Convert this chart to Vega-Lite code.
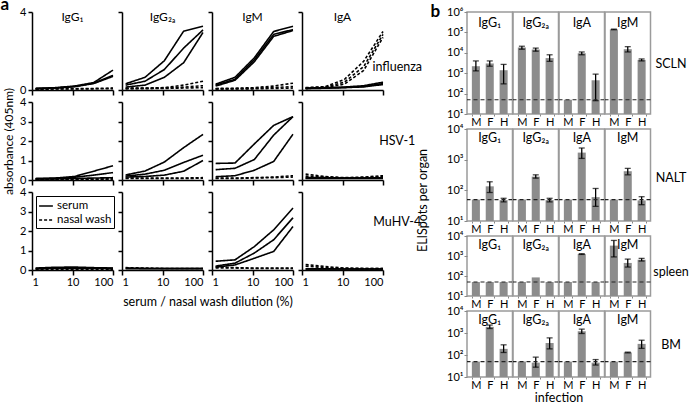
{
"$schema":"https://vega.github.io/schema/vega-lite/v6.json",
"padding":{"left":0,"top":-5,"right":0,"bottom":0},
"config":{"font":"Lato","view":{"stroke":null},
"axis":{"domainColor":"black","tickColor":"black","domainWidth":1.5,"tickWidth":1.5,"grid":false,"labelFontSize":11,"labelColor":"black","titleFontWeight":"normal","titleFontSize":12,"titleColor":"black"}},
"datasets":{
"lines":[
{"v":"influenza","i":"IgG1","s":"serum","m":1,"d":[1.23,3.7,11.1,33.3,100],"a":[0.08,0.12,0.2,0.38,1.02]},
{"v":"influenza","i":"IgG1","s":"serum","m":2,"d":[1.23,3.7,11.1,33.3,100],"a":[0.08,0.1,0.18,0.35,0.75]},
{"v":"influenza","i":"IgG1","s":"serum","m":3,"d":[1.23,3.7,11.1,33.3,100],"a":[0.06,0.1,0.17,0.33,0.7]},
{"v":"influenza","i":"IgG1","s":"nasal wash","m":4,"d":[1.23,3.7,11.1,33.3,100],"a":[0.06,0.06,0.07,0.08,0.1]},
{"v":"influenza","i":"IgG1","s":"nasal wash","m":5,"d":[1.23,3.7,11.1,33.3,100],"a":[0.04,0.05,0.05,0.06,0.07]},
{"v":"influenza","i":"IgG2a","s":"serum","m":1,"d":[1.23,3.7,11.1,33.3,100],"a":[0.32,0.65,1.5,3.02,3.27]},
{"v":"influenza","i":"IgG2a","s":"serum","m":2,"d":[1.23,3.7,11.1,33.3,100],"a":[0.25,0.45,1.05,2.15,3.08]},
{"v":"influenza","i":"IgG2a","s":"serum","m":3,"d":[1.23,3.7,11.1,33.3,100],"a":[0.15,0.25,0.65,1.4,2.95]},
{"v":"influenza","i":"IgG2a","s":"nasal wash","m":4,"d":[1.23,3.7,11.1,33.3,100],"a":[0.1,0.1,0.12,0.25,0.45]},
{"v":"influenza","i":"IgG2a","s":"nasal wash","m":5,"d":[1.23,3.7,11.1,33.3,100],"a":[0.08,0.09,0.1,0.15,0.22]},
{"v":"influenza","i":"IgG2a","s":"nasal wash","m":6,"d":[1.23,3.7,11.1,33.3,100],"a":[0.06,0.07,0.08,0.1,0.12]},
{"v":"influenza","i":"IgM","s":"serum","m":1,"d":[1.23,3.7,11.1,33.3,100],"a":[0.3,0.65,1.65,3.0,3.27]},
{"v":"influenza","i":"IgM","s":"serum","m":2,"d":[1.23,3.7,11.1,33.3,100],"a":[0.25,0.55,1.55,2.85,3.1]},
{"v":"influenza","i":"IgM","s":"serum","m":3,"d":[1.23,3.7,11.1,33.3,100],"a":[0.2,0.5,1.45,2.75,3.05]},
{"v":"influenza","i":"IgM","s":"nasal wash","m":4,"d":[1.23,3.7,11.1,33.3,100],"a":[0.08,0.09,0.12,0.2,0.35]},
{"v":"influenza","i":"IgM","s":"nasal wash","m":5,"d":[1.23,3.7,11.1,33.3,100],"a":[0.06,0.07,0.09,0.12,0.18]},
{"v":"influenza","i":"IgM","s":"nasal wash","m":6,"d":[1.23,3.7,11.1,33.3,100],"a":[0.05,0.05,0.06,0.08,0.1]},
{"v":"influenza","i":"IgA","s":"serum","m":1,"d":[1.23,3.7,11.1,33.3,100],"a":[0.1,0.12,0.15,0.22,0.4]},
{"v":"influenza","i":"IgA","s":"serum","m":2,"d":[1.23,3.7,11.1,33.3,100],"a":[0.08,0.1,0.13,0.18,0.33]},
{"v":"influenza","i":"IgA","s":"serum","m":3,"d":[1.23,3.7,11.1,33.3,100],"a":[0.07,0.09,0.12,0.16,0.28]},
{"v":"influenza","i":"IgA","s":"nasal wash","m":4,"d":[1.23,3.7,11.1,33.3,100],"a":[0.12,0.17,0.54,1.47,3.0]},
{"v":"influenza","i":"IgA","s":"nasal wash","m":5,"d":[1.23,3.7,11.1,33.3,100],"a":[0.1,0.15,0.4,1.2,2.85]},
{"v":"influenza","i":"IgA","s":"nasal wash","m":6,"d":[1.23,3.7,11.1,33.3,100],"a":[0.08,0.12,0.3,1.0,2.7]},
{"v":"HSV-1","i":"IgG1","s":"serum","m":1,"d":[1.23,3.7,11.1,33.3,100],"a":[0.08,0.1,0.18,0.45,0.73]},
{"v":"HSV-1","i":"IgG1","s":"serum","m":2,"d":[1.23,3.7,11.1,33.3,100],"a":[0.06,0.08,0.14,0.25,0.38]},
{"v":"HSV-1","i":"IgG1","s":"serum","m":3,"d":[1.23,3.7,11.1,33.3,100],"a":[0.05,0.06,0.08,0.1,0.12]},
{"v":"HSV-1","i":"IgG1","s":"nasal wash","m":4,"d":[1.23,3.7,11.1,33.3,100],"a":[0.04,0.04,0.05,0.05,0.06]},
{"v":"HSV-1","i":"IgG1","s":"nasal wash","m":5,"d":[1.23,3.7,11.1,33.3,100],"a":[0.03,0.03,0.04,0.04,0.05]},
{"v":"HSV-1","i":"IgG2a","s":"serum","m":1,"d":[1.23,3.7,11.1,33.3,100],"a":[0.26,0.46,0.92,1.66,2.34]},
{"v":"HSV-1","i":"IgG2a","s":"serum","m":2,"d":[1.23,3.7,11.1,33.3,100],"a":[0.2,0.3,0.5,0.9,1.27]},
{"v":"HSV-1","i":"IgG2a","s":"serum","m":3,"d":[1.23,3.7,11.1,33.3,100],"a":[0.15,0.18,0.25,0.45,1.0]},
{"v":"HSV-1","i":"IgG2a","s":"nasal wash","m":4,"d":[1.23,3.7,11.1,33.3,100],"a":[0.1,0.1,0.1,0.1,0.12]},
{"v":"HSV-1","i":"IgG2a","s":"nasal wash","m":5,"d":[1.23,3.7,11.1,33.3,100],"a":[0.08,0.08,0.08,0.08,0.09]},
{"v":"HSV-1","i":"IgM","s":"serum","m":1,"d":[1.23,3.7,11.1,33.3,100],"a":[0.85,0.87,1.85,2.8,3.25]},
{"v":"HSV-1","i":"IgM","s":"serum","m":2,"d":[1.23,3.7,11.1,33.3,100],"a":[0.53,0.6,1.05,2.3,3.25]},
{"v":"HSV-1","i":"IgM","s":"serum","m":3,"d":[1.23,3.7,11.1,33.3,100],"a":[0.17,0.22,0.5,0.95,2.35]},
{"v":"HSV-1","i":"IgM","s":"nasal wash","m":4,"d":[1.23,3.7,11.1,33.3,100],"a":[0.1,0.1,0.12,0.15,0.22]},
{"v":"HSV-1","i":"IgM","s":"nasal wash","m":5,"d":[1.23,3.7,11.1,33.3,100],"a":[0.08,0.08,0.1,0.12,0.15]},
{"v":"HSV-1","i":"IgA","s":"serum","m":1,"d":[1.23,3.7,11.1,33.3,100],"a":[0.12,0.12,0.1,0.1,0.12]},
{"v":"HSV-1","i":"IgA","s":"serum","m":2,"d":[1.23,3.7,11.1,33.3,100],"a":[0.1,0.1,0.1,0.1,0.1]},
{"v":"HSV-1","i":"IgA","s":"serum","m":3,"d":[1.23,3.7,11.1,33.3,100],"a":[0.08,0.08,0.08,0.08,0.08]},
{"v":"HSV-1","i":"IgA","s":"nasal wash","m":4,"d":[1.23,3.7,11.1,33.3,100],"a":[0.3,0.18,0.12,0.15,0.22]},
{"v":"HSV-1","i":"IgA","s":"nasal wash","m":5,"d":[1.23,3.7,11.1,33.3,100],"a":[0.2,0.15,0.1,0.12,0.18]},
{"v":"MuHV-4","i":"IgG1","s":"serum","m":1,"d":[1.23,3.7,11.1,33.3,100],"a":[0.1,0.14,0.15,0.12,0.1]},
{"v":"MuHV-4","i":"IgG1","s":"serum","m":2,"d":[1.23,3.7,11.1,33.3,100],"a":[0.08,0.1,0.1,0.1,0.08]},
{"v":"MuHV-4","i":"IgG1","s":"serum","m":3,"d":[1.23,3.7,11.1,33.3,100],"a":[0.06,0.08,0.08,0.08,0.07]},
{"v":"MuHV-4","i":"IgG1","s":"nasal wash","m":4,"d":[1.23,3.7,11.1,33.3,100],"a":[0.04,0.04,0.04,0.04,0.04]},
{"v":"MuHV-4","i":"IgG2a","s":"serum","m":1,"d":[1.23,3.7,11.1,33.3,100],"a":[0.1,0.08,0.08,0.08,0.08]},
{"v":"MuHV-4","i":"IgG2a","s":"serum","m":2,"d":[1.23,3.7,11.1,33.3,100],"a":[0.07,0.07,0.07,0.07,0.07]},
{"v":"MuHV-4","i":"IgG2a","s":"nasal wash","m":4,"d":[1.23,3.7,11.1,33.3,100],"a":[0.12,0.1,0.08,0.08,0.08]},
{"v":"MuHV-4","i":"IgM","s":"serum","m":1,"d":[1.23,3.7,11.1,33.3,100],"a":[0.45,0.52,1.2,2.06,3.18]},
{"v":"MuHV-4","i":"IgM","s":"serum","m":2,"d":[1.23,3.7,11.1,33.3,100],"a":[0.2,0.35,0.87,1.55,2.68]},
{"v":"MuHV-4","i":"IgM","s":"serum","m":3,"d":[1.23,3.7,11.1,33.3,100],"a":[0.15,0.26,0.6,0.95,2.23]},
{"v":"MuHV-4","i":"IgM","s":"nasal wash","m":4,"d":[1.23,3.7,11.1,33.3,100],"a":[0.15,0.12,0.1,0.1,0.1]},
{"v":"MuHV-4","i":"IgM","s":"nasal wash","m":5,"d":[1.23,3.7,11.1,33.3,100],"a":[0.1,0.1,0.08,0.08,0.08]},
{"v":"MuHV-4","i":"IgA","s":"serum","m":1,"d":[1.23,3.7,11.1,33.3,100],"a":[0.06,0.06,0.05,0.05,0.05]},
{"v":"MuHV-4","i":"IgA","s":"serum","m":2,"d":[1.23,3.7,11.1,33.3,100],"a":[0.05,0.05,0.05,0.05,0.05]},
{"v":"MuHV-4","i":"IgA","s":"nasal wash","m":4,"d":[1.23,3.7,11.1,33.3,100],"a":[0.28,0.18,0.1,0.08,0.08]},
{"v":"MuHV-4","i":"IgA","s":"nasal wash","m":5,"d":[1.23,3.7,11.1,33.3,100],"a":[0.2,0.12,0.08,0.07,0.07]}
],
"bars":[
{"o":"SCLN","i":"IgG1","g":"M","v":2200,"lo":1300,"hi":4000},
{"o":"SCLN","i":"IgG1","g":"F","v":3000,"lo":2200,"hi":4000},
{"o":"SCLN","i":"IgG1","g":"H","v":1400,"lo":300,"hi":2700},
{"o":"SCLN","i":"IgG2a","g":"M","v":18000,"lo":15000,"hi":21000},
{"o":"SCLN","i":"IgG2a","g":"F","v":14500,"lo":12000,"hi":17000},
{"o":"SCLN","i":"IgG2a","g":"H","v":5500,"lo":3800,"hi":8000},
{"o":"SCLN","i":"IgA","g":"M","v":50,"lo":null,"hi":null},
{"o":"SCLN","i":"IgA","g":"F","v":9500,"lo":8000,"hi":11000},
{"o":"SCLN","i":"IgA","g":"H","v":450,"lo":45,"hi":900},
{"o":"SCLN","i":"IgM","g":"M","v":140000,"lo":135000,"hi":145000},
{"o":"SCLN","i":"IgM","g":"F","v":15000,"lo":11000,"hi":20000},
{"o":"SCLN","i":"IgM","g":"H","v":4500,"lo":4000,"hi":5000},
{"o":"NALT","i":"IgG1","g":"M","v":50,"lo":null,"hi":null},
{"o":"NALT","i":"IgG1","g":"F","v":135,"lo":85,"hi":190},
{"o":"NALT","i":"IgG1","g":"H","v":48,"lo":42,"hi":55},
{"o":"NALT","i":"IgG2a","g":"M","v":50,"lo":null,"hi":null},
{"o":"NALT","i":"IgG2a","g":"F","v":280,"lo":250,"hi":320},
{"o":"NALT","i":"IgG2a","g":"H","v":48,"lo":42,"hi":55},
{"o":"NALT","i":"IgA","g":"M","v":50,"lo":null,"hi":null},
{"o":"NALT","i":"IgA","g":"F","v":1700,"lo":1100,"hi":2400},
{"o":"NALT","i":"IgA","g":"H","v":60,"lo":30,"hi":115},
{"o":"NALT","i":"IgM","g":"M","v":50,"lo":null,"hi":null},
{"o":"NALT","i":"IgM","g":"F","v":420,"lo":320,"hi":520},
{"o":"NALT","i":"IgM","g":"H","v":47,"lo":34,"hi":62},
{"o":"spleen","i":"IgG1","g":"M","v":50,"lo":null,"hi":null},
{"o":"spleen","i":"IgG1","g":"F","v":50,"lo":null,"hi":null},
{"o":"spleen","i":"IgG1","g":"H","v":50,"lo":null,"hi":null},
{"o":"spleen","i":"IgG2a","g":"M","v":50,"lo":null,"hi":null},
{"o":"spleen","i":"IgG2a","g":"F","v":85,"lo":null,"hi":null},
{"o":"spleen","i":"IgG2a","g":"H","v":50,"lo":null,"hi":null},
{"o":"spleen","i":"IgA","g":"M","v":50,"lo":null,"hi":null},
{"o":"spleen","i":"IgA","g":"F","v":1250,"lo":1200,"hi":1300},
{"o":"spleen","i":"IgA","g":"H","v":50,"lo":null,"hi":null},
{"o":"spleen","i":"IgM","g":"M","v":3300,"lo":900,"hi":6000},
{"o":"spleen","i":"IgM","g":"F","v":450,"lo":280,"hi":700},
{"o":"spleen","i":"IgM","g":"H","v":650,"lo":560,"hi":760},
{"o":"BM","i":"IgG1","g":"M","v":50,"lo":null,"hi":null},
{"o":"BM","i":"IgG1","g":"F","v":1900,"lo":1600,"hi":2300},
{"o":"BM","i":"IgG1","g":"H","v":190,"lo":130,"hi":290},
{"o":"BM","i":"IgG2a","g":"M","v":50,"lo":null,"hi":null},
{"o":"BM","i":"IgG2a","g":"F","v":45,"lo":28,"hi":80},
{"o":"BM","i":"IgG2a","g":"H","v":350,"lo":190,"hi":600},
{"o":"BM","i":"IgA","g":"M","v":50,"lo":null,"hi":null},
{"o":"BM","i":"IgA","g":"F","v":1200,"lo":950,"hi":1500},
{"o":"BM","i":"IgA","g":"H","v":45,"lo":35,"hi":62},
{"o":"BM","i":"IgM","g":"M","v":50,"lo":null,"hi":null},
{"o":"BM","i":"IgM","g":"F","v":130,"lo":125,"hi":135},
{"o":"BM","i":"IgM","g":"H","v":320,"lo":200,"hi":470}
]},
"hconcat":[
{"concat":[
{"width":81,"height":78,"data":{"name":"lines"},"transform":[{"filter":"datum.v=='influenza'&&datum.i=='IgG1'"},{"flatten":["d","a"]}],
"layer":[{"mark":{"type":"line","color":"black","strokeWidth":1.6},"encoding":{
"x":{"field":"d","type":"quantitative","scale":{"type":"log","domain":[1,100]},"axis":{"values":[1,10,100],"labels":false,"tickSize":5,"title":null}},
"y":{"field":"a","type":"quantitative","scale":{"domain":[0,4]},"axis":{"values":[0,1,2,3,4],"tickSize":4,"labelPadding":2,"title":"a","titleAngle":0,"titleX":-32,"titleY":-3,"titleAlign":"left","titleBaseline":"alphabetic","titleFontWeight":"bold","titleFontSize":17}},
"strokeDash":{"field":"s","type":"nominal","scale":{"domain":["serum","nasal wash"],"range":[[1,0],[3,2]]},"legend":null},
"detail":{"field":"m","type":"nominal"}}},
{"data":{"values":[{}]},"mark":{"type":"text","fontSize":12},"encoding":{"x":{"datum":10},"y":{"datum":3.75},"text":{"value":"IgG₁"}}}]},
{"width":81,"height":78,"data":{"name":"lines"},"transform":[{"filter":"datum.v=='influenza'&&datum.i=='IgG2a'"},{"flatten":["d","a"]}],
"layer":[{"mark":{"type":"line","color":"black","strokeWidth":1.6},"encoding":{
"x":{"field":"d","type":"quantitative","scale":{"type":"log","domain":[1,100]},"axis":{"values":[1,10,100],"labels":false,"tickSize":5,"title":null}},
"y":{"field":"a","type":"quantitative","scale":{"domain":[0,4]},"axis":{"values":[0,1,2,3,4],"tickSize":4,"labels":false,"title":null}},
"strokeDash":{"field":"s","type":"nominal","scale":{"domain":["serum","nasal wash"],"range":[[1,0],[3,2]]},"legend":null},
"detail":{"field":"m","type":"nominal"}}},
{"data":{"values":[{}]},"mark":{"type":"text","fontSize":12},"encoding":{"x":{"datum":10},"y":{"datum":3.75},"text":{"value":"IgG₂ₐ"}}}]},
{"width":81,"height":78,"data":{"name":"lines"},"transform":[{"filter":"datum.v=='influenza'&&datum.i=='IgM'"},{"flatten":["d","a"]}],
"layer":[{"mark":{"type":"line","color":"black","strokeWidth":1.6},"encoding":{
"x":{"field":"d","type":"quantitative","scale":{"type":"log","domain":[1,100]},"axis":{"values":[1,10,100],"labels":false,"tickSize":5,"title":null}},
"y":{"field":"a","type":"quantitative","scale":{"domain":[0,4]},"axis":{"values":[0,1,2,3,4],"tickSize":4,"labels":false,"title":null}},
"strokeDash":{"field":"s","type":"nominal","scale":{"domain":["serum","nasal wash"],"range":[[1,0],[3,2]]},"legend":null},
"detail":{"field":"m","type":"nominal"}}},
{"data":{"values":[{}]},"mark":{"type":"text","fontSize":12},"encoding":{"x":{"datum":10},"y":{"datum":3.75},"text":{"value":"IgM"}}}]},
{"width":81,"height":78,"data":{"name":"lines"},"transform":[{"filter":"datum.v=='influenza'&&datum.i=='IgA'"},{"flatten":["d","a"]}],
"layer":[{"mark":{"type":"line","color":"black","strokeWidth":1.6},"encoding":{
"x":{"field":"d","type":"quantitative","scale":{"type":"log","domain":[1,100]},"axis":{"values":[1,10,100],"labels":false,"tickSize":5,"title":null}},
"y":{"field":"a","type":"quantitative","scale":{"domain":[0,4]},"axis":{"values":[0,1,2,3,4],"tickSize":4,"labels":false,"title":null}},
"strokeDash":{"field":"s","type":"nominal","scale":{"domain":["serum","nasal wash"],"range":[[1,0],[3,2]]},"legend":null},
"detail":{"field":"m","type":"nominal"}}},
{"data":{"values":[{}]},"mark":{"type":"text","fontSize":12},"encoding":{"x":{"datum":10},"y":{"datum":3.75},"text":{"value":"IgA"}}},
{"data":{"values":[{}]},"mark":{"type":"text","fontSize":12.5},"encoding":{"x":{"datum":225},"y":{"datum":1.2},"text":{"value":"influenza"}}}]},
{"width":81,"height":78,"data":{"name":"lines"},"transform":[{"filter":"datum.v=='HSV-1'&&datum.i=='IgG1'"},{"flatten":["d","a"]}],
"layer":[{"mark":{"type":"line","color":"black","strokeWidth":1.6},"encoding":{
"x":{"field":"d","type":"quantitative","scale":{"type":"log","domain":[1,100]},"axis":{"values":[1,10,100],"labels":false,"tickSize":5,"title":null}},
"y":{"field":"a","type":"quantitative","scale":{"domain":[0,4]},"axis":{"values":[0,1,2,3,4],"tickSize":4,"labelPadding":2,"title":"absorbance (405nm)","titleX":-20,"titleY":39,"titleAlign":"center","titleBaseline":"alphabetic"}},
"strokeDash":{"field":"s","type":"nominal","scale":{"domain":["serum","nasal wash"],"range":[[1,0],[3,2]]},"legend":null},
"detail":{"field":"m","type":"nominal"}}}]},
{"width":81,"height":78,"data":{"name":"lines"},"transform":[{"filter":"datum.v=='HSV-1'&&datum.i=='IgG2a'"},{"flatten":["d","a"]}],
"layer":[{"mark":{"type":"line","color":"black","strokeWidth":1.6},"encoding":{
"x":{"field":"d","type":"quantitative","scale":{"type":"log","domain":[1,100]},"axis":{"values":[1,10,100],"labels":false,"tickSize":5,"title":null}},
"y":{"field":"a","type":"quantitative","scale":{"domain":[0,4]},"axis":{"values":[0,1,2,3,4],"tickSize":4,"labels":false,"title":null}},
"strokeDash":{"field":"s","type":"nominal","scale":{"domain":["serum","nasal wash"],"range":[[1,0],[3,2]]},"legend":null},
"detail":{"field":"m","type":"nominal"}}}]},
{"width":81,"height":78,"data":{"name":"lines"},"transform":[{"filter":"datum.v=='HSV-1'&&datum.i=='IgM'"},{"flatten":["d","a"]}],
"layer":[{"mark":{"type":"line","color":"black","strokeWidth":1.6},"encoding":{
"x":{"field":"d","type":"quantitative","scale":{"type":"log","domain":[1,100]},"axis":{"values":[1,10,100],"labels":false,"tickSize":5,"title":null}},
"y":{"field":"a","type":"quantitative","scale":{"domain":[0,4]},"axis":{"values":[0,1,2,3,4],"tickSize":4,"labels":false,"title":null}},
"strokeDash":{"field":"s","type":"nominal","scale":{"domain":["serum","nasal wash"],"range":[[1,0],[3,2]]},"legend":null},
"detail":{"field":"m","type":"nominal"}}}]},
{"width":81,"height":78,"data":{"name":"lines"},"transform":[{"filter":"datum.v=='HSV-1'&&datum.i=='IgA'"},{"flatten":["d","a"]}],
"layer":[{"mark":{"type":"line","color":"black","strokeWidth":1.6},"encoding":{
"x":{"field":"d","type":"quantitative","scale":{"type":"log","domain":[1,100]},"axis":{"values":[1,10,100],"labels":false,"tickSize":5,"title":null}},
"y":{"field":"a","type":"quantitative","scale":{"domain":[0,4]},"axis":{"values":[0,1,2,3,4],"tickSize":4,"labels":false,"title":null}},
"strokeDash":{"field":"s","type":"nominal","scale":{"domain":["serum","nasal wash"],"range":[[1,0],[3,2]]},"legend":null},
"detail":{"field":"m","type":"nominal"}}},
{"data":{"values":[{}]},"mark":{"type":"text","fontSize":12.5},"encoding":{"x":{"datum":225},"y":{"datum":2.0},"text":{"value":"HSV-1"}}}]},
{"width":81,"height":78,"data":{"name":"lines"},"transform":[{"filter":"datum.v=='MuHV-4'&&datum.i=='IgG1'"},{"flatten":["d","a"]}],
"layer":[{"mark":{"type":"line","color":"black","strokeWidth":1.6},"encoding":{
"x":{"field":"d","type":"quantitative","scale":{"type":"log","domain":[1,100]},"axis":{"values":[1,10,100],"format":"d","tickSize":5,"labelPadding":1,"title":null}},
"y":{"field":"a","type":"quantitative","scale":{"domain":[0,4]},"axis":{"values":[0,1,2,3,4],"tickSize":4,"labelPadding":2,"title":null}},
"strokeDash":{"field":"s","type":"nominal","scale":{"domain":["serum","nasal wash"],"range":[[1,0],[3,2]]},"legend":{"title":null,"orient":"none","legendX":4,"legendY":4,"strokeColor":"black","padding":2,"labelFontSize":11.5,"symbolType":"stroke","symbolStrokeWidth":1.5,"symbolStrokeColor":"black","symbolSize":190,"rowPadding":0,"labelOffset":3,"labelLimit":200}},
"detail":{"field":"m","type":"nominal"}}}]},
{"width":81,"height":78,"data":{"name":"lines"},"transform":[{"filter":"datum.v=='MuHV-4'&&datum.i=='IgG2a'"},{"flatten":["d","a"]}],
"layer":[{"mark":{"type":"line","color":"black","strokeWidth":1.6},"encoding":{
"x":{"field":"d","type":"quantitative","scale":{"type":"log","domain":[1,100]},"axis":{"values":[1,10,100],"format":"d","tickSize":5,"labelPadding":1,"title":"serum / nasal wash dilution (%)","titleX":85.5,"titleY":35,"titleAlign":"center","titleBaseline":"alphabetic","titleFontSize":12.5}},
"y":{"field":"a","type":"quantitative","scale":{"domain":[0,4]},"axis":{"values":[0,1,2,3,4],"tickSize":4,"labels":false,"title":null}},
"strokeDash":{"field":"s","type":"nominal","scale":{"domain":["serum","nasal wash"],"range":[[1,0],[3,2]]},"legend":null},
"detail":{"field":"m","type":"nominal"}}}]},
{"width":81,"height":78,"data":{"name":"lines"},"transform":[{"filter":"datum.v=='MuHV-4'&&datum.i=='IgM'"},{"flatten":["d","a"]}],
"layer":[{"mark":{"type":"line","color":"black","strokeWidth":1.6},"encoding":{
"x":{"field":"d","type":"quantitative","scale":{"type":"log","domain":[1,100]},"axis":{"values":[1,10,100],"format":"d","tickSize":5,"labelPadding":1,"title":null}},
"y":{"field":"a","type":"quantitative","scale":{"domain":[0,4]},"axis":{"values":[0,1,2,3,4],"tickSize":4,"labels":false,"title":null}},
"strokeDash":{"field":"s","type":"nominal","scale":{"domain":["serum","nasal wash"],"range":[[1,0],[3,2]]},"legend":null},
"detail":{"field":"m","type":"nominal"}}}]},
{"width":81,"height":78,"data":{"name":"lines"},"transform":[{"filter":"datum.v=='MuHV-4'&&datum.i=='IgA'"},{"flatten":["d","a"]}],
"layer":[{"mark":{"type":"line","color":"black","strokeWidth":1.6},"encoding":{
"x":{"field":"d","type":"quantitative","scale":{"type":"log","domain":[1,100]},"axis":{"values":[1,10,100],"format":"d","tickSize":5,"labelPadding":1,"title":null}},
"y":{"field":"a","type":"quantitative","scale":{"domain":[0,4]},"axis":{"values":[0,1,2,3,4],"tickSize":4,"labels":false,"title":null}},
"strokeDash":{"field":"s","type":"nominal","scale":{"domain":["serum","nasal wash"],"range":[[1,0],[3,2]]},"legend":null},
"detail":{"field":"m","type":"nominal"}}},
{"data":{"values":[{}]},"mark":{"type":"text","fontSize":12.5},"encoding":{"x":{"datum":225},"y":{"datum":2.47},"text":{"value":"MuHV-4"}}}]}
],"columns":4,"spacing":{"column":9,"row":12},"bounds":"flush",
"resolve":{"scale":{"strokeDash":"independent"},"legend":{"strokeDash":"independent"}}},
{"concat":[
{"width":45.5,"height":102,"view":{"stroke":"#9b9b9b","strokeWidth":1.5},"data":{"name":"bars"},"transform":[{"filter":"datum.o=='SCLN'&&datum.i=='IgG1'"}],
"layer":[{"mark":{"type":"bar","color":"#8c8c8c"},"encoding":{
"x":{"field":"g","type":"nominal","sort":["M","F","H"],"scale":{"domain":["M","F","H"],"paddingInner":0.42,"paddingOuter":0.35},"axis":{"labelAngle":0,"labelPadding":0,"tickBand":"extent","tickSize":2,"tickColor":"#888","tickWidth":1,"domain":false,"title":null}},
"y":{"field":"v","type":"quantitative","scale":{"type":"log","domain":[10,1000000]},"axis":{"values":[10,100,1000,10000,100000,1000000],"labelExpr":"'10'+['⁰','¹','²','³','⁴','⁵','⁶'][round(log(datum.value)/LN10)]","tickSize":3,"tickColor":"#888","tickWidth":1,"domain":false,"labelPadding":1,"title":"b","titleAngle":0,"titleX":-37,"titleY":4,"titleAlign":"left","titleBaseline":"alphabetic","titleFontWeight":"bold","titleFontSize":17}},
"y2":{"datum":10}}},
{"transform":[{"filter":"datum.lo!=null"}],"mark":{"type":"errorbar","color":"black","thickness":1.3,"ticks":{"size":6}},"encoding":{"x":{"field":"g","type":"nominal"},"y":{"field":"lo","type":"quantitative","title":"b"},"y2":{"field":"hi"}}},
{"data":{"values":[{}]},"mark":{"type":"rule","color":"#222","strokeDash":[4,3],"strokeWidth":1.2},"encoding":{"y":{"datum":50}}},
{"data":{"values":[{}]},"mark":{"type":"text","fontSize":12.5},"encoding":{"x":{"datum":"F"},"y":{"datum":290000},"text":{"value":"IgG₁"}}}]},
{"width":45.5,"height":102,"view":{"stroke":"#9b9b9b","strokeWidth":1.5},"data":{"name":"bars"},"transform":[{"filter":"datum.o=='SCLN'&&datum.i=='IgG2a'"}],
"layer":[{"mark":{"type":"bar","color":"#8c8c8c"},"encoding":{
"x":{"field":"g","type":"nominal","sort":["M","F","H"],"scale":{"domain":["M","F","H"],"paddingInner":0.42,"paddingOuter":0.35},"axis":{"labelAngle":0,"labelPadding":0,"tickBand":"extent","tickSize":2,"tickColor":"#888","tickWidth":1,"domain":false,"title":null}},
"y":{"field":"v","type":"quantitative","scale":{"type":"log","domain":[10,1000000]},"axis":null},"y2":{"datum":10}}},
{"transform":[{"filter":"datum.lo!=null"}],"mark":{"type":"errorbar","color":"black","thickness":1.3,"ticks":{"size":6}},"encoding":{"x":{"field":"g","type":"nominal"},"y":{"field":"lo","type":"quantitative","axis":null},"y2":{"field":"hi"}}},
{"data":{"values":[{}]},"mark":{"type":"rule","color":"#222","strokeDash":[4,3],"strokeWidth":1.2},"encoding":{"y":{"datum":50,"axis":null}}},
{"data":{"values":[{}]},"mark":{"type":"text","fontSize":12.5},"encoding":{"x":{"datum":"F"},"y":{"datum":290000,"axis":null},"text":{"value":"IgG₂ₐ"}}}]},
{"width":45.5,"height":102,"view":{"stroke":"#9b9b9b","strokeWidth":1.5},"data":{"name":"bars"},"transform":[{"filter":"datum.o=='SCLN'&&datum.i=='IgA'"}],
"layer":[{"mark":{"type":"bar","color":"#8c8c8c"},"encoding":{
"x":{"field":"g","type":"nominal","sort":["M","F","H"],"scale":{"domain":["M","F","H"],"paddingInner":0.42,"paddingOuter":0.35},"axis":{"labelAngle":0,"labelPadding":0,"tickBand":"extent","tickSize":2,"tickColor":"#888","tickWidth":1,"domain":false,"title":null}},
"y":{"field":"v","type":"quantitative","scale":{"type":"log","domain":[10,1000000]},"axis":null},"y2":{"datum":10}}},
{"transform":[{"filter":"datum.lo!=null"}],"mark":{"type":"errorbar","color":"black","thickness":1.3,"ticks":{"size":6}},"encoding":{"x":{"field":"g","type":"nominal"},"y":{"field":"lo","type":"quantitative","axis":null},"y2":{"field":"hi"}}},
{"data":{"values":[{}]},"mark":{"type":"rule","color":"#222","strokeDash":[4,3],"strokeWidth":1.2},"encoding":{"y":{"datum":50,"axis":null}}},
{"data":{"values":[{}]},"mark":{"type":"text","fontSize":12.5},"encoding":{"x":{"datum":"F"},"y":{"datum":290000,"axis":null},"text":{"value":"IgA"}}}]},
{"width":45.5,"height":102,"view":{"stroke":"#9b9b9b","strokeWidth":1.5},"data":{"name":"bars"},"transform":[{"filter":"datum.o=='SCLN'&&datum.i=='IgM'"}],
"layer":[{"mark":{"type":"bar","color":"#8c8c8c"},"encoding":{
"x":{"field":"g","type":"nominal","sort":["M","F","H"],"scale":{"domain":["M","F","H"],"paddingInner":0.42,"paddingOuter":0.35},"axis":{"labelAngle":0,"labelPadding":0,"tickBand":"extent","tickSize":2,"tickColor":"#888","tickWidth":1,"domain":false,"title":null}},
"y":{"field":"v","type":"quantitative","scale":{"type":"log","domain":[10,1000000]},"axis":{"orient":"right","labels":false,"ticks":false,"domain":false,"title":"SCLN","titleAngle":0,"titleX":20,"titleY":51,"titleAlign":"center","titleBaseline":"middle","titleFontSize":12.5}},"y2":{"datum":10}}},
{"transform":[{"filter":"datum.lo!=null"}],"mark":{"type":"errorbar","color":"black","thickness":1.3,"ticks":{"size":6}},"encoding":{"x":{"field":"g","type":"nominal"},"y":{"field":"lo","type":"quantitative","title":"SCLN"},"y2":{"field":"hi"}}},
{"data":{"values":[{}]},"mark":{"type":"rule","color":"#222","strokeDash":[4,3],"strokeWidth":1.2},"encoding":{"y":{"datum":50}}},
{"data":{"values":[{}]},"mark":{"type":"text","fontSize":12.5},"encoding":{"x":{"datum":"F"},"y":{"datum":290000},"text":{"value":"IgM"}}}]},

{"width":45.5,"height":92,"view":{"stroke":"#9b9b9b","strokeWidth":1.5},"data":{"name":"bars"},"transform":[{"filter":"datum.o=='NALT'&&datum.i=='IgG1'"}],
"layer":[{"mark":{"type":"bar","color":"#8c8c8c"},"encoding":{
"x":{"field":"g","type":"nominal","sort":["M","F","H"],"scale":{"domain":["M","F","H"],"paddingInner":0.42,"paddingOuter":0.35},"axis":{"labelAngle":0,"labelPadding":0,"tickBand":"extent","tickSize":2,"tickColor":"#888","tickWidth":1,"domain":false,"title":null}},
"y":{"field":"v","type":"quantitative","scale":{"type":"log","domain":[10,10000]},"axis":{"values":[10,100,1000,10000],"labelExpr":"'10'+['⁰','¹','²','³','⁴','⁵','⁶'][round(log(datum.value)/LN10)]","tickSize":3,"tickColor":"#888","tickWidth":1,"domain":false,"labelPadding":1,"title":"ELISpots per organ","titleX":-41,"titleY":71,"titleAlign":"center","titleBaseline":"alphabetic","titleFontSize":12.5}},"y2":{"datum":10}}},
{"transform":[{"filter":"datum.lo!=null"}],"mark":{"type":"errorbar","color":"black","thickness":1.3,"ticks":{"size":6}},"encoding":{"x":{"field":"g","type":"nominal"},"y":{"field":"lo","type":"quantitative","title":"ELISpots per organ"},"y2":{"field":"hi"}}},
{"data":{"values":[{}]},"mark":{"type":"rule","color":"#222","strokeDash":[4,3],"strokeWidth":1.2},"encoding":{"y":{"datum":50}}},
{"data":{"values":[{}]},"mark":{"type":"text","fontSize":12.5},"encoding":{"x":{"datum":"F"},"y":{"datum":5000},"text":{"value":"IgG₁"}}}]},
{"width":45.5,"height":92,"view":{"stroke":"#9b9b9b","strokeWidth":1.5},"data":{"name":"bars"},"transform":[{"filter":"datum.o=='NALT'&&datum.i=='IgG2a'"}],
"layer":[{"mark":{"type":"bar","color":"#8c8c8c"},"encoding":{
"x":{"field":"g","type":"nominal","sort":["M","F","H"],"scale":{"domain":["M","F","H"],"paddingInner":0.42,"paddingOuter":0.35},"axis":{"labelAngle":0,"labelPadding":0,"tickBand":"extent","tickSize":2,"tickColor":"#888","tickWidth":1,"domain":false,"title":null}},
"y":{"field":"v","type":"quantitative","scale":{"type":"log","domain":[10,10000]},"axis":null},"y2":{"datum":10}}},
{"transform":[{"filter":"datum.lo!=null"}],"mark":{"type":"errorbar","color":"black","thickness":1.3,"ticks":{"size":6}},"encoding":{"x":{"field":"g","type":"nominal"},"y":{"field":"lo","type":"quantitative","axis":null},"y2":{"field":"hi"}}},
{"data":{"values":[{}]},"mark":{"type":"rule","color":"#222","strokeDash":[4,3],"strokeWidth":1.2},"encoding":{"y":{"datum":50,"axis":null}}},
{"data":{"values":[{}]},"mark":{"type":"text","fontSize":12.5},"encoding":{"x":{"datum":"F"},"y":{"datum":5000,"axis":null},"text":{"value":"IgG₂ₐ"}}}]},
{"width":45.5,"height":92,"view":{"stroke":"#9b9b9b","strokeWidth":1.5},"data":{"name":"bars"},"transform":[{"filter":"datum.o=='NALT'&&datum.i=='IgA'"}],
"layer":[{"mark":{"type":"bar","color":"#8c8c8c"},"encoding":{
"x":{"field":"g","type":"nominal","sort":["M","F","H"],"scale":{"domain":["M","F","H"],"paddingInner":0.42,"paddingOuter":0.35},"axis":{"labelAngle":0,"labelPadding":0,"tickBand":"extent","tickSize":2,"tickColor":"#888","tickWidth":1,"domain":false,"title":null}},
"y":{"field":"v","type":"quantitative","scale":{"type":"log","domain":[10,10000]},"axis":null},"y2":{"datum":10}}},
{"transform":[{"filter":"datum.lo!=null"}],"mark":{"type":"errorbar","color":"black","thickness":1.3,"ticks":{"size":6}},"encoding":{"x":{"field":"g","type":"nominal"},"y":{"field":"lo","type":"quantitative","axis":null},"y2":{"field":"hi"}}},
{"data":{"values":[{}]},"mark":{"type":"rule","color":"#222","strokeDash":[4,3],"strokeWidth":1.2},"encoding":{"y":{"datum":50,"axis":null}}},
{"data":{"values":[{}]},"mark":{"type":"text","fontSize":12.5},"encoding":{"x":{"datum":"F"},"y":{"datum":5000,"axis":null},"text":{"value":"IgA"}}}]},
{"width":45.5,"height":92,"view":{"stroke":"#9b9b9b","strokeWidth":1.5},"data":{"name":"bars"},"transform":[{"filter":"datum.o=='NALT'&&datum.i=='IgM'"}],
"layer":[{"mark":{"type":"bar","color":"#8c8c8c"},"encoding":{
"x":{"field":"g","type":"nominal","sort":["M","F","H"],"scale":{"domain":["M","F","H"],"paddingInner":0.42,"paddingOuter":0.35},"axis":{"labelAngle":0,"labelPadding":0,"tickBand":"extent","tickSize":2,"tickColor":"#888","tickWidth":1,"domain":false,"title":null}},
"y":{"field":"v","type":"quantitative","scale":{"type":"log","domain":[10,10000]},"axis":{"orient":"right","labels":false,"ticks":false,"domain":false,"title":"NALT","titleAngle":0,"titleX":20,"titleY":48,"titleAlign":"center","titleBaseline":"middle","titleFontSize":12.5}},"y2":{"datum":10}}},
{"transform":[{"filter":"datum.lo!=null"}],"mark":{"type":"errorbar","color":"black","thickness":1.3,"ticks":{"size":6}},"encoding":{"x":{"field":"g","type":"nominal"},"y":{"field":"lo","type":"quantitative","title":"NALT"},"y2":{"field":"hi"}}},
{"data":{"values":[{}]},"mark":{"type":"rule","color":"#222","strokeDash":[4,3],"strokeWidth":1.2},"encoding":{"y":{"datum":50}}},
{"data":{"values":[{}]},"mark":{"type":"text","fontSize":12.5},"encoding":{"x":{"datum":"F"},"y":{"datum":5000},"text":{"value":"IgM"}}}]},

{"width":45.5,"height":60,"view":{"stroke":"#9b9b9b","strokeWidth":1.5},"data":{"name":"bars"},"transform":[{"filter":"datum.o=='spleen'&&datum.i=='IgG1'"}],
"layer":[{"mark":{"type":"bar","color":"#8c8c8c"},"encoding":{
"x":{"field":"g","type":"nominal","sort":["M","F","H"],"scale":{"domain":["M","F","H"],"paddingInner":0.42,"paddingOuter":0.35},"axis":{"labelAngle":0,"labelPadding":0,"tickBand":"extent","tickSize":2,"tickColor":"#888","tickWidth":1,"domain":false,"title":null}},
"y":{"field":"v","type":"quantitative","scale":{"type":"log","domain":[10,10000]},"axis":{"values":[10,100,1000,10000],"labelExpr":"'10'+['⁰','¹','²','³','⁴','⁵','⁶'][round(log(datum.value)/LN10)]","tickSize":3,"tickColor":"#888","tickWidth":1,"domain":false,"labelPadding":1,"title":null}},"y2":{"datum":10}}},
{"transform":[{"filter":"datum.lo!=null"}],"mark":{"type":"errorbar","color":"black","thickness":1.3,"ticks":{"size":6}},"encoding":{"x":{"field":"g","type":"nominal"},"y":{"field":"lo","type":"quantitative","title":null},"y2":{"field":"hi"}}},
{"data":{"values":[{}]},"mark":{"type":"rule","color":"#222","strokeDash":[4,3],"strokeWidth":1.2},"encoding":{"y":{"datum":50}}},
{"data":{"values":[{}]},"mark":{"type":"text","fontSize":12.5},"encoding":{"x":{"datum":"F"},"y":{"datum":3500},"text":{"value":"IgG₁"}}}]},
{"width":45.5,"height":60,"view":{"stroke":"#9b9b9b","strokeWidth":1.5},"data":{"name":"bars"},"transform":[{"filter":"datum.o=='spleen'&&datum.i=='IgG2a'"}],
"layer":[{"mark":{"type":"bar","color":"#8c8c8c"},"encoding":{
"x":{"field":"g","type":"nominal","sort":["M","F","H"],"scale":{"domain":["M","F","H"],"paddingInner":0.42,"paddingOuter":0.35},"axis":{"labelAngle":0,"labelPadding":0,"tickBand":"extent","tickSize":2,"tickColor":"#888","tickWidth":1,"domain":false,"title":null}},
"y":{"field":"v","type":"quantitative","scale":{"type":"log","domain":[10,10000]},"axis":null},"y2":{"datum":10}}},
{"transform":[{"filter":"datum.lo!=null"}],"mark":{"type":"errorbar","color":"black","thickness":1.3,"ticks":{"size":6}},"encoding":{"x":{"field":"g","type":"nominal"},"y":{"field":"lo","type":"quantitative","axis":null},"y2":{"field":"hi"}}},
{"data":{"values":[{}]},"mark":{"type":"rule","color":"#222","strokeDash":[4,3],"strokeWidth":1.2},"encoding":{"y":{"datum":50,"axis":null}}},
{"data":{"values":[{}]},"mark":{"type":"text","fontSize":12.5},"encoding":{"x":{"datum":"F"},"y":{"datum":3500,"axis":null},"text":{"value":"IgG₂ₐ"}}}]},
{"width":45.5,"height":60,"view":{"stroke":"#9b9b9b","strokeWidth":1.5},"data":{"name":"bars"},"transform":[{"filter":"datum.o=='spleen'&&datum.i=='IgA'"}],
"layer":[{"mark":{"type":"bar","color":"#8c8c8c"},"encoding":{
"x":{"field":"g","type":"nominal","sort":["M","F","H"],"scale":{"domain":["M","F","H"],"paddingInner":0.42,"paddingOuter":0.35},"axis":{"labelAngle":0,"labelPadding":0,"tickBand":"extent","tickSize":2,"tickColor":"#888","tickWidth":1,"domain":false,"title":null}},
"y":{"field":"v","type":"quantitative","scale":{"type":"log","domain":[10,10000]},"axis":null},"y2":{"datum":10}}},
{"transform":[{"filter":"datum.lo!=null"}],"mark":{"type":"errorbar","color":"black","thickness":1.3,"ticks":{"size":6}},"encoding":{"x":{"field":"g","type":"nominal"},"y":{"field":"lo","type":"quantitative","axis":null},"y2":{"field":"hi"}}},
{"data":{"values":[{}]},"mark":{"type":"rule","color":"#222","strokeDash":[4,3],"strokeWidth":1.2},"encoding":{"y":{"datum":50,"axis":null}}},
{"data":{"values":[{}]},"mark":{"type":"text","fontSize":12.5},"encoding":{"x":{"datum":"F"},"y":{"datum":3500,"axis":null},"text":{"value":"IgA"}}}]},
{"width":45.5,"height":60,"view":{"stroke":"#9b9b9b","strokeWidth":1.5},"data":{"name":"bars"},"transform":[{"filter":"datum.o=='spleen'&&datum.i=='IgM'"}],
"layer":[{"mark":{"type":"bar","color":"#8c8c8c"},"encoding":{
"x":{"field":"g","type":"nominal","sort":["M","F","H"],"scale":{"domain":["M","F","H"],"paddingInner":0.42,"paddingOuter":0.35},"axis":{"labelAngle":0,"labelPadding":0,"tickBand":"extent","tickSize":2,"tickColor":"#888","tickWidth":1,"domain":false,"title":null}},
"y":{"field":"v","type":"quantitative","scale":{"type":"log","domain":[10,10000]},"axis":{"orient":"right","labels":false,"ticks":false,"domain":false,"title":"spleen","titleAngle":0,"titleX":20,"titleY":35,"titleAlign":"center","titleBaseline":"middle","titleFontSize":12.5}},"y2":{"datum":10}}},
{"transform":[{"filter":"datum.lo!=null"}],"mark":{"type":"errorbar","color":"black","thickness":1.3,"ticks":{"size":6}},"encoding":{"x":{"field":"g","type":"nominal"},"y":{"field":"lo","type":"quantitative","title":"spleen"},"y2":{"field":"hi"}}},
{"data":{"values":[{}]},"mark":{"type":"rule","color":"#222","strokeDash":[4,3],"strokeWidth":1.2},"encoding":{"y":{"datum":50}}},
{"data":{"values":[{}]},"mark":{"type":"text","fontSize":12.5},"encoding":{"x":{"datum":"F"},"y":{"datum":3500},"text":{"value":"IgM"}}}]},

{"width":45.5,"height":66,"view":{"stroke":"#9b9b9b","strokeWidth":1.5},"data":{"name":"bars"},"transform":[{"filter":"datum.o=='BM'&&datum.i=='IgG1'"}],
"layer":[{"mark":{"type":"bar","color":"#8c8c8c"},"encoding":{
"x":{"field":"g","type":"nominal","sort":["M","F","H"],"scale":{"domain":["M","F","H"],"paddingInner":0.42,"paddingOuter":0.35},"axis":{"labelAngle":0,"labelPadding":0,"tickBand":"extent","tickSize":2,"tickColor":"#888","tickWidth":1,"domain":false,"title":null}},
"y":{"field":"v","type":"quantitative","scale":{"type":"log","domain":[10,10000]},"axis":{"values":[10,100,1000,10000],"labelExpr":"'10'+['⁰','¹','²','³','⁴','⁵','⁶'][round(log(datum.value)/LN10)]","tickSize":3,"tickColor":"#888","tickWidth":1,"domain":false,"labelPadding":1,"title":null}},"y2":{"datum":10}}},
{"transform":[{"filter":"datum.lo!=null"}],"mark":{"type":"errorbar","color":"black","thickness":1.3,"ticks":{"size":6}},"encoding":{"x":{"field":"g","type":"nominal"},"y":{"field":"lo","type":"quantitative","title":null},"y2":{"field":"hi"}}},
{"data":{"values":[{}]},"mark":{"type":"rule","color":"#222","strokeDash":[4,3],"strokeWidth":1.2},"encoding":{"y":{"datum":50}}},
{"data":{"values":[{}]},"mark":{"type":"text","fontSize":12.5},"encoding":{"x":{"datum":"F"},"y":{"datum":3900},"text":{"value":"IgG₁"}}}]},
{"width":45.5,"height":66,"view":{"stroke":"#9b9b9b","strokeWidth":1.5},"data":{"name":"bars"},"transform":[{"filter":"datum.o=='BM'&&datum.i=='IgG2a'"}],
"layer":[{"mark":{"type":"bar","color":"#8c8c8c"},"encoding":{
"x":{"field":"g","type":"nominal","sort":["M","F","H"],"scale":{"domain":["M","F","H"],"paddingInner":0.42,"paddingOuter":0.35},"axis":{"labelAngle":0,"labelPadding":0,"tickBand":"extent","tickSize":2,"tickColor":"#888","tickWidth":1,"domain":false,"title":"infection","titleX":45.5,"titleY":24,"titleAlign":"center","titleBaseline":"alphabetic","titleFontSize":12.5}},
"y":{"field":"v","type":"quantitative","scale":{"type":"log","domain":[10,10000]},"axis":null},"y2":{"datum":10}}},
{"transform":[{"filter":"datum.lo!=null"}],"mark":{"type":"errorbar","color":"black","thickness":1.3,"ticks":{"size":6}},"encoding":{"x":{"field":"g","type":"nominal","title":"infection"},"y":{"field":"lo","type":"quantitative","axis":null},"y2":{"field":"hi"}}},
{"data":{"values":[{}]},"mark":{"type":"rule","color":"#222","strokeDash":[4,3],"strokeWidth":1.2},"encoding":{"y":{"datum":50,"axis":null}}},
{"data":{"values":[{}]},"mark":{"type":"text","fontSize":12.5},"encoding":{"x":{"datum":"F"},"y":{"datum":3900,"axis":null},"text":{"value":"IgG₂ₐ"}}}]},
{"width":45.5,"height":66,"view":{"stroke":"#9b9b9b","strokeWidth":1.5},"data":{"name":"bars"},"transform":[{"filter":"datum.o=='BM'&&datum.i=='IgA'"}],
"layer":[{"mark":{"type":"bar","color":"#8c8c8c"},"encoding":{
"x":{"field":"g","type":"nominal","sort":["M","F","H"],"scale":{"domain":["M","F","H"],"paddingInner":0.42,"paddingOuter":0.35},"axis":{"labelAngle":0,"labelPadding":0,"tickBand":"extent","tickSize":2,"tickColor":"#888","tickWidth":1,"domain":false,"title":null}},
"y":{"field":"v","type":"quantitative","scale":{"type":"log","domain":[10,10000]},"axis":null},"y2":{"datum":10}}},
{"transform":[{"filter":"datum.lo!=null"}],"mark":{"type":"errorbar","color":"black","thickness":1.3,"ticks":{"size":6}},"encoding":{"x":{"field":"g","type":"nominal"},"y":{"field":"lo","type":"quantitative","axis":null},"y2":{"field":"hi"}}},
{"data":{"values":[{}]},"mark":{"type":"rule","color":"#222","strokeDash":[4,3],"strokeWidth":1.2},"encoding":{"y":{"datum":50,"axis":null}}},
{"data":{"values":[{}]},"mark":{"type":"text","fontSize":12.5},"encoding":{"x":{"datum":"F"},"y":{"datum":3900,"axis":null},"text":{"value":"IgA"}}}]},
{"width":45.5,"height":66,"view":{"stroke":"#9b9b9b","strokeWidth":1.5},"data":{"name":"bars"},"transform":[{"filter":"datum.o=='BM'&&datum.i=='IgM'"}],
"layer":[{"mark":{"type":"bar","color":"#8c8c8c"},"encoding":{
"x":{"field":"g","type":"nominal","sort":["M","F","H"],"scale":{"domain":["M","F","H"],"paddingInner":0.42,"paddingOuter":0.35},"axis":{"labelAngle":0,"labelPadding":0,"tickBand":"extent","tickSize":2,"tickColor":"#888","tickWidth":1,"domain":false,"title":null}},
"y":{"field":"v","type":"quantitative","scale":{"type":"log","domain":[10,10000]},"axis":{"orient":"right","labels":false,"ticks":false,"domain":false,"title":"BM","titleAngle":0,"titleX":20,"titleY":33,"titleAlign":"center","titleBaseline":"middle","titleFontSize":12.5}},"y2":{"datum":10}}},
{"transform":[{"filter":"datum.lo!=null"}],"mark":{"type":"errorbar","color":"black","thickness":1.3,"ticks":{"size":6}},"encoding":{"x":{"field":"g","type":"nominal"},"y":{"field":"lo","type":"quantitative","title":"BM"},"y2":{"field":"hi"}}},
{"data":{"values":[{}]},"mark":{"type":"rule","color":"#222","strokeDash":[4,3],"strokeWidth":1.2},"encoding":{"y":{"datum":50}}},
{"data":{"values":[{}]},"mark":{"type":"text","fontSize":12.5},"encoding":{"x":{"datum":"F"},"y":{"datum":3900},"text":{"value":"IgM"}}}]}
],"columns":4,"spacing":{"column":0,"row":15},"bounds":"flush","resolve":{"scale":{"y":"independent"}}}
],"spacing":-8}
